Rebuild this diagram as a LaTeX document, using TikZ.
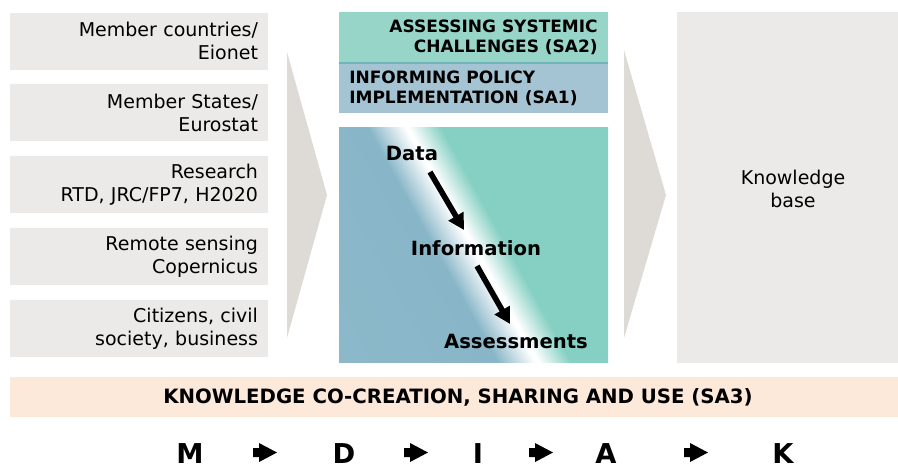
\documentclass[tikz,border=0pt]{standalone}
\usepackage{fontspec}
\setmainfont{DejaVu Sans}
\usetikzlibrary{arrows.meta}
\definecolor{boxgray}{RGB}{236,234,232}
\definecolor{chev}{RGB}{222,219,215}
\definecolor{satwo}{RGB}{150,213,199}
\definecolor{saone}{RGB}{164,196,211}
\definecolor{sepline}{RGB}{110,180,185}
\definecolor{gblue}{RGB}{142,186,203}
\definecolor{gbluedk}{RGB}{136,182,200}
\definecolor{gteal}{RGB}{134,208,195}
\definecolor{peach}{RGB}{253,233,217}
\pgfdeclarehorizontalshading{stripe}{100bp}{color(0bp)=(gblue); color(43bp)=(gbluedk); color(49.5bp)=(white); color(50bp)=(white); color(55.5bp)=(gteal); color(100bp)=(gteal)}
\tikzset{
  src/.style={fill=boxgray, minimum width=193.5pt, minimum height=42.75pt, text width=178.5pt, inner xsep=7.5pt, inner ysep=0pt, align=right, font=\fontsize{14.25}{17.25}\selectfont},
  hdr/.style={font=\bfseries\fontsize{12.75}{15}\selectfont, inner sep=0pt},
  flow/.style={font=\bfseries\fontsize{14.7}{16}\selectfont, inner sep=0pt},
  bigarr/.style={line width=4.2pt, -{Triangle[length=12pt,width=12.5pt]}},
  letter/.style={font=\bfseries\fontsize{20.5}{22}\selectfont, inner sep=0pt},
  blockarr/.pic={\fill[black] (-12,-4.5) -- (-6,-4.5) -- (-6,-9.5) -- (12,0) -- (-6,9.5) -- (-6,4.5) -- (-12,4.5) -- cycle;}
}
\begin{document}
\begin{tikzpicture}[x=0.75pt,y=-0.75pt]
\useasboundingbox (0,0) rectangle (898,469);
% sources
\node[src] (s1) at (139,41) {Member countries/\\Eionet};
\node[src] (s2) at (139,112.5) {Member States/\\Eurostat};
\node[src] (s3) at (139,184.5) {Research\\RTD, JRC/FP7, H2020};
\node[src] (s4) at (139,256.5) {Remote sensing\\Copernicus};
\node[src] (s5) at (139,328.5) {Citizens, civil\\society, business};
% chevrons
\fill[chev] (287,52) -- (327,195) -- (287,338) -- cycle;
\fill[chev] (624,50) -- (666,195) -- (624,338) -- cycle;
% SA boxes
\fill[satwo] (339,12) rectangle (608,63);
\fill[saone] (339,63) rectangle (608,113);
\draw[sepline, line width=0.8pt] (339,63) -- (608,63);
\node[hdr, anchor=east, align=right] (sa2) at (598,37) {ASSESSING SYSTEMIC\\CHALLENGES (SA2)};
\node[hdr, anchor=west, align=left] (sa1) at (349,88) {INFORMING POLICY\\IMPLEMENTATION (SA1)};
% gradient box
\shade[shading=stripe, shading angle=29] (339,127) rectangle (608,362);
\node[flow] (data) at (412,153) {Data};
\node[flow] (info) at (476,248) {Information};
\node[flow] (assess) at (516,341) {Assessments};
\coordinate (a1s) at (430,172);
\coordinate (a1e) at (464,230);
\coordinate (a2s) at (477,266);
\coordinate (a2e) at (510,324);
\draw[bigarr] (a1s) -- (a1e);
\draw[bigarr] (a2s) -- (a2e);
% knowledge base
\node[fill=boxgray, anchor=north west, minimum width=165.75pt, minimum height=263.25pt, inner sep=0pt] (kb) at (677,12) {};
\node[font=\fontsize{14.25}{17.25}\selectfont, align=center, inner sep=0pt] (kbt) at (793,189) {Knowledge\\base};
% band
\node[fill=peach, anchor=north west, minimum width=666pt, minimum height=30pt, inner sep=0pt] (band) at (10,377) {};
\node[font=\bfseries\fontsize{14.8}{16}\selectfont, inner sep=0pt] (bandt) at (458,397) {KNOWLEDGE CO-CREATION, SHARING AND USE (SA3)};
% letters
\node[letter] (m) at (190,454) {M};
\node[letter] (d) at (344,454) {D};
\node[letter] (i) at (478,454) {I};
\node[letter] (a) at (606,454) {A};
\node[letter] (k) at (783,454) {K};
\pic (r1) at (265,452.5) {blockarr};
\pic (r2) at (416,452.5) {blockarr};
\pic (r3) at (541,452.5) {blockarr};
\pic (r4) at (696,452.5) {blockarr};
\end{tikzpicture}
\end{document}
